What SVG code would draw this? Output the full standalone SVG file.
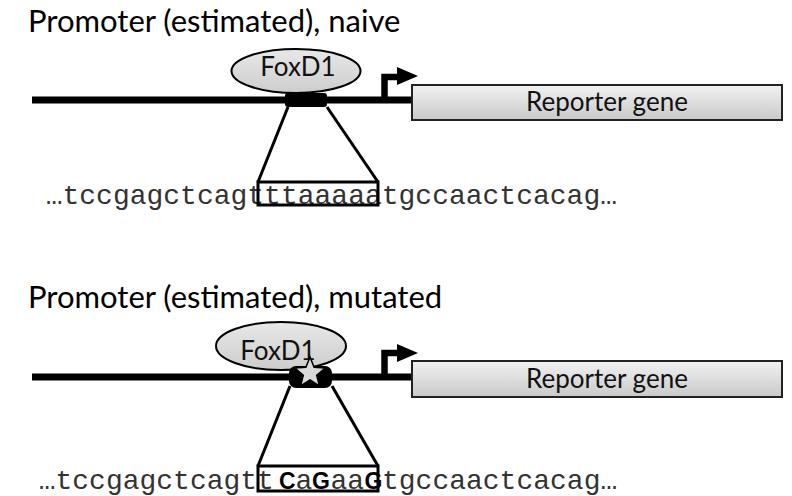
<svg xmlns="http://www.w3.org/2000/svg" width="792" height="496" viewBox="0 0 792 496">
<defs>
<linearGradient id="gBox" x1="0" y1="0" x2="0" y2="1"><stop offset="0" stop-color="#f2f2f2"/><stop offset="1" stop-color="#c9c9c9"/></linearGradient>
<linearGradient id="gEll" x1="0" y1="0" x2="0" y2="1"><stop offset="0" stop-color="#e8e8e8"/><stop offset="1" stop-color="#cdcdcd"/></linearGradient>
<style>
.title{font-family:Lato,"Liberation Sans",sans-serif;font-size:31px;fill:#000}
.lbl{font-family:Lato,"Liberation Sans",sans-serif;font-size:26px;fill:#111}
.seq{font-family:"Liberation Mono","Courier New",monospace;font-size:28px;fill:#333}
.bold{font-family:"Liberation Sans",Arial,sans-serif;font-weight:bold;font-size:23px;fill:#000}
.dna{stroke:#000;stroke-width:7;fill:none}
.ell{fill:url(#gEll);stroke:#000;stroke-width:2}
.box{fill:url(#gBox);stroke:#222;stroke-width:2}
.tss{stroke:#000;stroke-width:6.5;fill:none}
.conn{stroke:#000;stroke-width:3;fill:none}
.win{fill:none;stroke:#000;stroke-width:3}
</style>
</defs>
<rect width="792" height="496" fill="#fff"/>

<g id="title-naive"><text class="title" x="28" y="32">Promoter (estimated), naive</text></g>
<g id="dna-naive"><line class="dna" x1="32" y1="100" x2="413" y2="100"/></g>
<g id="foxd1-naive"><ellipse class="ell" cx="296" cy="71" rx="64.5" ry="22"/><text class="lbl" x="298" y="76" text-anchor="middle">FoxD1</text></g>
<g id="site-naive"><rect x="285" y="93" width="42" height="14" rx="3" fill="#000"/></g>
<g id="promoter-naive"><path class="tss" d="M384.5,100 V77 H399"/><polygon points="397,67 418,76 397,85" fill="#000"/></g>
<g id="reporter-naive"><rect class="box" x="412" y="85" width="370" height="35"/><text class="lbl" x="607" y="111" text-anchor="middle">Reporter gene</text></g>
<g id="sequence-naive"><text class="seq" x="45.7" y="204">…tccgagctcagtttaaaaatgccaactcacag…</text><rect class="win" x="258" y="182" width="120" height="23"/></g>

<g id="title-mutated"><text class="title" x="28" y="308">Promoter (estimated), mutated</text></g>
<g id="dna-mutated"><line class="dna" x1="32" y1="377" x2="413" y2="377"/></g>
<g id="foxd1-mutated"><ellipse class="ell" cx="281" cy="346" rx="65" ry="24"/><text class="lbl" x="278" y="360" text-anchor="middle">FoxD1</text></g>
<g id="site-mutated"><rect x="289" y="366" width="43" height="22" rx="7" fill="#000"/><polygon points="310,357 314.1,367.3 325.2,368.1 316.7,375.2 319.4,385.9 310,380 300.6,385.9 303.3,375.2 294.8,368.1 305.9,367.3" fill="#d9d9d9" stroke="#000" stroke-width="1.5"/></g>
<g id="promoter-mutated"><path class="tss" d="M384.5,377 V353 H399"/><polygon points="397,344 418,353 397,362" fill="#000"/></g>
<g id="reporter-mutated"><rect class="box" x="412" y="361" width="370" height="36"/><text class="lbl" x="607" y="388" text-anchor="middle">Reporter gene</text></g>
<g id="sequence-mutated"><text class="seq" x="38.7" y="489">…tccgagctcagtt<tspan class="bold" x="279">C</tspan><tspan x="295.5">a</tspan><tspan class="bold" x="312">G</tspan><tspan x="330.5">aa</tspan><tspan class="bold" x="364.5">G</tspan><tspan x="382">tgccaactcacag…</tspan></text><rect class="win" x="258" y="466" width="120" height="25"/></g>

<g id="connectors">
<line class="conn" x1="288" y1="107" x2="258" y2="182"/>
<line class="conn" x1="327" y1="107" x2="378" y2="182"/>
<line class="conn" x1="290" y1="386" x2="258" y2="466"/>
<line class="conn" x1="332" y1="386" x2="378" y2="466"/>
</g>
</svg>
